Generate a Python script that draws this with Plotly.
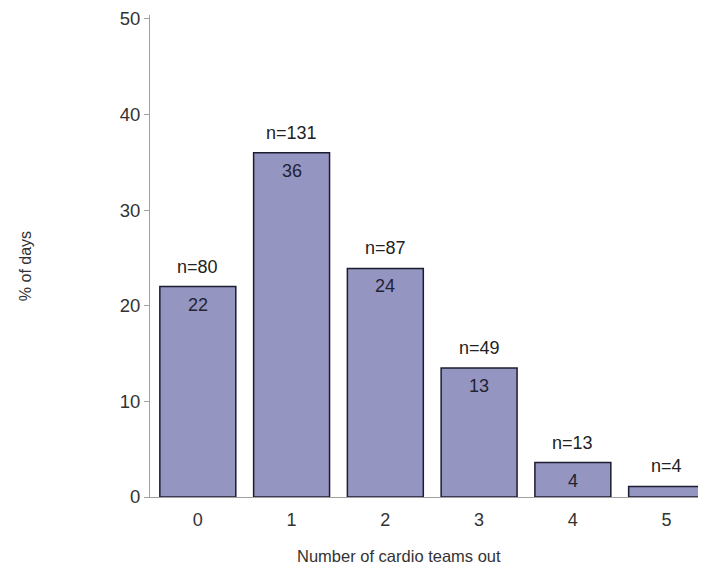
import plotly.graph_objects as go

categories = [0, 1, 2, 3, 4, 5]
pct_days = [22.0, 36.0, 23.9, 13.5, 3.6, 1.1]
inside_labels = ["22", "36", "24", "13", "4", ""]
n_labels = ["n=80", "n=131", "n=87", "n=49", "n=13", "n=4"]
y_ticks = [0, 10, 20, 30, 40, 50]

FONT = "Liberation Sans, Arial, sans-serif"
TXT = "#333333"

fig = go.Figure()
fig.add_trace(go.Bar(
    x=categories, y=pct_days, width=0.81,
    marker=dict(color="#9595c2", line=dict(color="#1c1c30", width=1.5)),
    hoverinfo="skip", showlegend=False,
))

annotations = []
for c, v, lab, n in zip(categories, pct_days, inside_labels, n_labels):
    annotations.append(dict(x=c, y=v, xref="x", yref="y", text=n, showarrow=False,
                            yanchor="middle", yshift=20,
                            font=dict(family=FONT, size=18, color="#222222")))
    if lab:
        annotations.append(dict(x=c, y=v, xref="x", yref="y", text=lab, showarrow=False,
                                yanchor="middle", yshift=-18,
                                font=dict(family=FONT, size=18, color="#222233")))

annotations.append(dict(text="Number of cardio teams out", xref="paper", yref="paper",
                        x=0.448, y=-0.122, xanchor="center", yanchor="middle",
                        showarrow=False, font=dict(family=FONT, size=16.5, color=TXT)))
annotations.append(dict(text="% of days", xref="paper", yref="paper",
                        x=-0.2248, y=0.479, xanchor="center", yanchor="middle",
                        textangle=-90, showarrow=False,
                        font=dict(family=FONT, size=16, color=TXT)))

fig.update_layout(
    width=698, height=559,
    margin=dict(l=142, r=0, t=7, b=70, autoexpand=False),
    plot_bgcolor="white", paper_bgcolor="white",
    font=dict(family=FONT, size=18, color=TXT),
    annotations=annotations,
)
fig.update_xaxes(
    range=[-0.51, 5.42], tickvals=categories,
    ticktext=[str(c) for c in categories],
    showline=True, linecolor="#a0a0a0", linewidth=1,
    ticks="", showgrid=False, zeroline=False, automargin=False,
    ticklabelstandoff=6,
    tickfont=dict(size=18, color=TXT),
)
fig.update_yaxes(
    range=[0, 50.4], tickvals=y_ticks,
    showline=True, linecolor="#a0a0a0", linewidth=1,
    ticks="outside", ticklen=5, tickcolor="#a0a0a0",
    showgrid=False, zeroline=False, automargin=False,
    tickfont=dict(size=18.5, color=TXT),
)

fig.write_html("out.html")
